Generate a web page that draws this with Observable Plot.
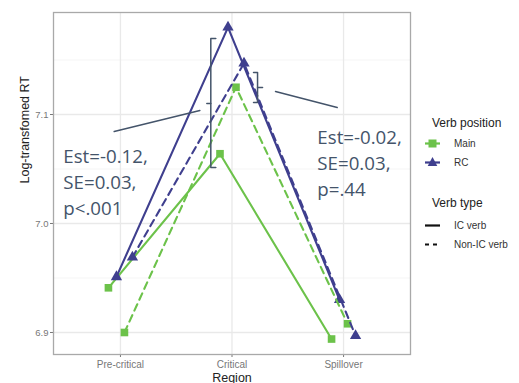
<!DOCTYPE html>
<html><head><meta charset="utf-8">
<script src="https://cdn.jsdelivr.net/npm/d3@7"></script>
<script src="https://cdn.jsdelivr.net/npm/@observablehq/plot@0.6"></script>
<style>
body{margin:0;background:#fff}
#wrap{position:relative;width:519px;height:383px;overflow:hidden;font-family:"Liberation Sans",Arial,sans-serif;background:#fff}
.lt{position:absolute;left:432px;font-size:12px;color:#222;line-height:14px;height:14px;white-space:nowrap}
.li{position:absolute;left:424px;display:flex;align-items:center;height:14px;font-size:10px;color:#333;white-space:nowrap}
.li svg{margin-right:13px}
</style>
</head><body><div id="wrap"></div>
<script>
// ---- data ----
const regions = ["Pre-critical", "Critical", "Spillover"];
const mainIC    = [6.941, 7.064, 6.894];
const rcIC      = [6.951, 7.180, 6.930];
const mainNonIC = [6.900, 7.125, 6.908];
const rcNonIC   = [6.969, 7.147, 6.897];
const yTicks = [6.9, 7.0, 7.1];
const yMinor = [6.95, 7.05, 7.15];
const annLeft  = ["Est=-0.12,", "SE=0.03,", "p<.001"];
const annRight = ["Est=-0.02,", "SE=0.03,", "p=.44"];
const positions = ["Main", "RC"];
const types = ["IC verb", "Non-IC verb"];

// ---- build ----
const colors = {Main: "#6cc24a", RC: "#3f3f8e"};
const annColor = "#44546a";
const series = [
  {pos: "Main", type: "IC verb", vals: mainIC, dx: -12},
  {pos: "RC", type: "IC verb", vals: rcIC, dx: -4},
  {pos: "Main", type: "Non-IC verb", vals: mainNonIC, dx: 4},
  {pos: "RC", type: "Non-IC verb", vals: rcNonIC, dx: 12}
];
const seriesMarks = series.flatMap(s => {
  const rows = regions.map((r, i) => ({i, v: s.vals[i]}));
  const dash = s.type === "IC verb" ? null : "7,5";
  return [
    Plot.line(rows, {x: "i", y: "v", dx: s.dx, stroke: colors[s.pos], strokeWidth: 2.1, strokeDasharray: dash}),
    Plot.dot(rows, {x: "i", y: "v", dx: s.dx, fill: colors[s.pos], symbol: s.pos === "Main" ? "square" : "triangle", r: s.pos === "Main" ? 4.3 : 4.2})
  ];
});

// annotation geometry in data space (x = region index, y = log RT)
const connL = [{x: -0.056, y: 7.0844}, {x: 0.712, y: 7.1037}];
const connR = [{x: 1.390, y: 7.1211}, {x: 1.943, y: 7.1064}];
const brL = {x: 0.810, top: 7.1697, bot: 7.0514, mid: 7.1101, serif: 0.045, tick: -0.036};
const brR = {x: 1.229, top: 7.1385, bot: 7.1110, mid: 7.1248, serif: -0.036, tick: 0.045};
function bracket(b) {
  return [
    Plot.line([{x: b.x + b.serif, y: b.top}, {x: b.x, y: b.top}, {x: b.x, y: b.bot}, {x: b.x + b.serif, y: b.bot}], {x: "x", y: "y", stroke: annColor, strokeWidth: 1.5}),
    Plot.line([{x: b.x, y: b.mid}, {x: b.x + b.tick, y: b.mid}], {x: "x", y: "y", stroke: annColor, strokeWidth: 1.5})
  ];
}

const chart = Plot.plot({
  width: 519, height: 383,
  marginLeft: 53, marginRight: 109, marginTop: 12, marginBottom: 29,
  style: {fontFamily: "Liberation Sans, Arial, sans-serif", background: "white", overflow: "hidden"},
  x: {domain: [-0.6, 2.6]},
  y: {domain: [6.8798, 7.1936]},
  marks: [
    Plot.ruleY(yMinor, {stroke: "#f2f2f2", strokeWidth: 0.8}),
    Plot.ruleY(yTicks, {stroke: "#e9e9e9", strokeWidth: 1.3}),
    Plot.ruleX([0, 1, 2], {stroke: "#e9e9e9", strokeWidth: 1.3}),
    Plot.axisX({ticks: [0, 1, 2], tickFormat: i => regions[i], tickSize: 3, tickPadding: 3, fontSize: 10, color: "#777", label: null}),
    Plot.axisY({ticks: yTicks, tickFormat: d3.format(".1f"), tickSize: 3, tickPadding: 2, fontSize: 9.5, color: "#777", label: null}),
    Plot.text(["Region"], {frameAnchor: "bottom", dy: 27, fontSize: 12.5, fill: "#222"}),
    Plot.text(["Log-transfomed RT"], {frameAnchor: "left", dx: -29, rotate: -90, fontSize: 12.5, fill: "#222"}),
    ...seriesMarks,
    Plot.line(connL, {x: "x", y: "y", stroke: annColor, strokeWidth: 1.5}),
    Plot.line(connR, {x: "x", y: "y", stroke: annColor, strokeWidth: 1.5}),
    ...bracket(brL),
    ...bracket(brR),
    Plot.text([annLeft.join("\n")], {x: -0.512, y: 7.0392, textAnchor: "start", lineAnchor: "middle", lineHeight: 1.39, fontSize: 18.7, fill: annColor, fontFamily: "Open Sans"}),
    Plot.text([annRight.join("\n")], {x: 1.765, y: 7.0567, textAnchor: "start", lineAnchor: "middle", lineHeight: 1.39, fontSize: 18.7, fill: annColor, fontFamily: "Open Sans"}),
    Plot.frame({stroke: "#a9a9a9", strokeWidth: 1.3})
  ]
});
const wrap = document.getElementById("wrap");
wrap.appendChild(chart);

// legend (row centres in px)
const titleY = [123, 203];
const posY = [143, 162];
const typeY = [225, 244];
let html = `<div class="lt" style="top:${titleY[0] - 7}px">Verb position</div>`;
positions.forEach((p, k) => {
  const sym = p === "Main"
    ? `<rect x="4.5" y="2.5" width="8" height="8" fill="${colors[p]}"/>`
    : `<path d="M8.5,1 L13.3,10 L3.7,10 Z" fill="${colors[p]}"/>`;
  html += `<div class="li" style="top:${posY[k] - 7}px"><svg width="17" height="13"><line x1="1" x2="16" y1="6.5" y2="6.5" stroke="${colors[p]}" stroke-width="2.2"/>${sym}</svg>${p}</div>`;
});
html += `<div class="lt" style="top:${titleY[1] - 7}px">Verb type</div>`;
types.forEach((t, k) => {
  const dash = t === "IC verb" ? "" : `stroke-dasharray="4,4"`;
  html += `<div class="li" style="top:${typeY[k] - 7}px"><svg width="17" height="13"><line x1="1" x2="16" y1="6.5" y2="6.5" stroke="#111" stroke-width="2.2" ${dash}/></svg>${t}</div>`;
});
const lg = document.createElement("div");
lg.innerHTML = html;
wrap.appendChild(lg);
</script>
</body></html>
